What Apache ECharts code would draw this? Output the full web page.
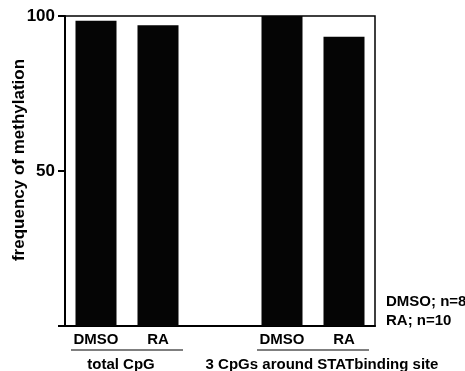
<!DOCTYPE html>
<html><head><meta charset="utf-8">
<script src="https://cdn.jsdelivr.net/npm/echarts@6/dist/echarts.min.js"></script>
<style>html,body{margin:0;padding:0;background:#fff}#c{width:465px;height:371px}</style>
</head><body><div id="c"></div>
<script>
var categories = ['DMSO', 'RA', '', 'DMSO', 'RA'];
var values = [98.5, 97, null, 100, 93.3];
var groups = ['total CpG', '3 CpGs around STATbinding site'];
var groupSpans = [[0, 1], [3, 4]];
var legendLines = ['DMSO; n=8', 'RA; n=10'];
var yTicks = [0, 50, 100];
var FONT = '"Liberation Sans", Arial, Helvetica, sans-serif';

var chart = echarts.init(document.getElementById('c'));
chart.setOption({
  animation: false,
  grid: { left: 65, right: 90, top: 16, bottom: 45, containLabel: false, outerBoundsMode: 'none',
    show: true, borderColor: '#000', borderWidth: 1.5, backgroundColor: 'transparent' },
  xAxis: {
    type: 'category', data: categories,
    axisLine: { lineStyle: { color: '#000', width: 2 } },
    axisTick: { show: false },
    axisLabel: { color: '#000', fontFamily: FONT, fontWeight: 'bold', fontSize: 15, margin: 6 }
  },
  yAxis: {
    type: 'value', min: 0, max: 100, interval: 50,
    name: 'frequency of methylation', nameLocation: 'middle', nameRotate: 90, nameGap: 37,
    nameMoveOverlap: false,
    nameTextStyle: { color: '#000', fontFamily: FONT, fontWeight: 'bold', fontSize: 17, padding: [0, 0, 0, 22] },
    axisLine: { show: true, lineStyle: { color: '#000', width: 2 } },
    axisTick: { show: true, length: 7, lineStyle: { color: '#000', width: 2 } },
    splitLine: { show: false },
    axisLabel: { color: '#000', fontFamily: FONT, fontWeight: 'bold', fontSize: 17, margin: 10,
      formatter: function (v) { return yTicks.indexOf(v) > 0 ? String(v) : ''; } }
  },
  series: [{ type: 'bar', data: values, barWidth: 41, itemStyle: { color: '#050505' } }]
});

function layoutGraphics() {
  var els = [];
  var offs = [-6, 9];
  groupSpans.forEach(function (span, i) {
    var x0 = chart.convertToPixel({ xAxisIndex: 0 }, span[0]);
    var x1 = chart.convertToPixel({ xAxisIndex: 0 }, span[1]);
    var y = chart.convertToPixel({ yAxisIndex: 0 }, 0);
    els.push({ type: 'line', shape: { x1: x0 - 25, y1: y + 24, x2: x1 + 25, y2: y + 24 }, style: { stroke: '#000', lineWidth: 1.2 } });
    els.push({ type: 'text', x: (x0 + x1) / 2 + offs[i], y: y + 31,
      style: { text: groups[i], fill: '#000', font: 'bold 15px ' + FONT, textAlign: 'center', textVerticalAlign: 'top' } });
  });
  var yb = chart.convertToPixel({ yAxisIndex: 0 }, 0);
  legendLines.forEach(function (t, i) {
    els.push({ type: 'text', x: 386, y: yb - 32 + i * 19,
      style: { text: t, fill: '#000', font: 'bold 15px ' + FONT, textAlign: 'left', textVerticalAlign: 'top' } });
  });
  chart.setOption({ graphic: { elements: els } });
}
layoutGraphics();
</script></body></html>
